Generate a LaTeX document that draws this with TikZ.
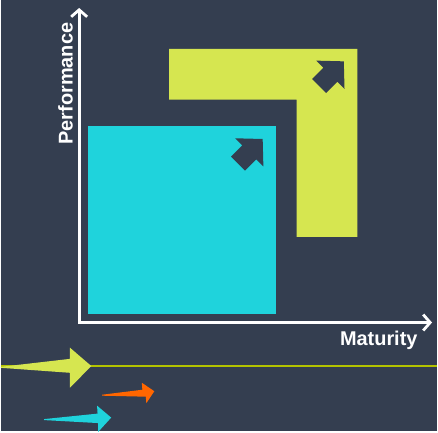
\documentclass[tikz,border=0pt]{standalone}
\usepackage{fontspec}
\setmainfont{Liberation Sans}
\usetikzlibrary{arrows.meta}

\definecolor{navy}{HTML}{343E50}
\definecolor{aqua}{HTML}{1FD3DC}
\definecolor{lime}{HTML}{D6E650}
\definecolor{rail}{HTML}{B4C300}
\definecolor{tangerine}{HTML}{FF6600}

\tikzset{
  axis/.style={white, line width=2.8pt, line join=miter,
    {Straight Barb[length=7pt,width=16pt]}-{Straight Barb[length=7pt,width=16pt]}},
  axistext/.style={white, inner sep=0pt, font=\bfseries\fontsize{20}{24}\selectfont},
  pics/nearrow/.style={code={
    \fill[navy] (-17.5,-10) -- (-1.5,-10) -- (-1.5,-20) -- (17.5,0)
      -- (-1.5,20) -- (-1.5,10) -- (-17.5,10) -- cycle;}}
}

\begin{document}
\begin{tikzpicture}[x=1pt, y=-1pt]

  % Background
  \fill[navy] (0,0) rectangle (438,433);

  % Define boxes
  \fill[lime] (169,49) -- (358,49) -- (358,238) -- (297,238)
    -- (297,100) -- (169,100) -- cycle;
  \fill[aqua] (87,127) rectangle (276,315);
  \pic[rotate=45] (grow) at (332,74) {nearrow};
  \pic[rotate=45] (rise) at (250.5,152) {nearrow};

  % Define axes
  \coordinate (origin) at (78.5,324);
  \coordinate (ytip) at (78.5,8);
  \coordinate (xtip) at (433,324);
  \draw[axis] (ytip) -- (origin) -- (xtip);
  \node[axistext, rotate=90, anchor=base] (perf) at (72,84) {Performance};
  \node[axistext, anchor=base] (mat) at (379.5,347) {Maturity};

  % Bottom darts
  \draw[rail, line width=2pt] (0,368) -- (438,368);
  \fill[lime] (0,368.5) -- (69.3,360.5) -- (69.3,349.3) -- (90.7,367.7)
    -- (69.3,389.5) -- (69.3,374.5) -- (0,369.5) -- cycle;
  \fill[tangerine] (101.7,396.5) -- (142,391.5) -- (141.5,384.5) -- (154,393)
    -- (146,405) -- (145.5,398.5) -- (101.7,397.5) -- cycle;
  \fill[aqua] (43.3,421) -- (97,415.5) -- (96.5,407.5) -- (110.7,419.5)
    -- (97.5,434) -- (97.5,425) -- (43.3,422) -- cycle;

\end{tikzpicture}
\end{document}
